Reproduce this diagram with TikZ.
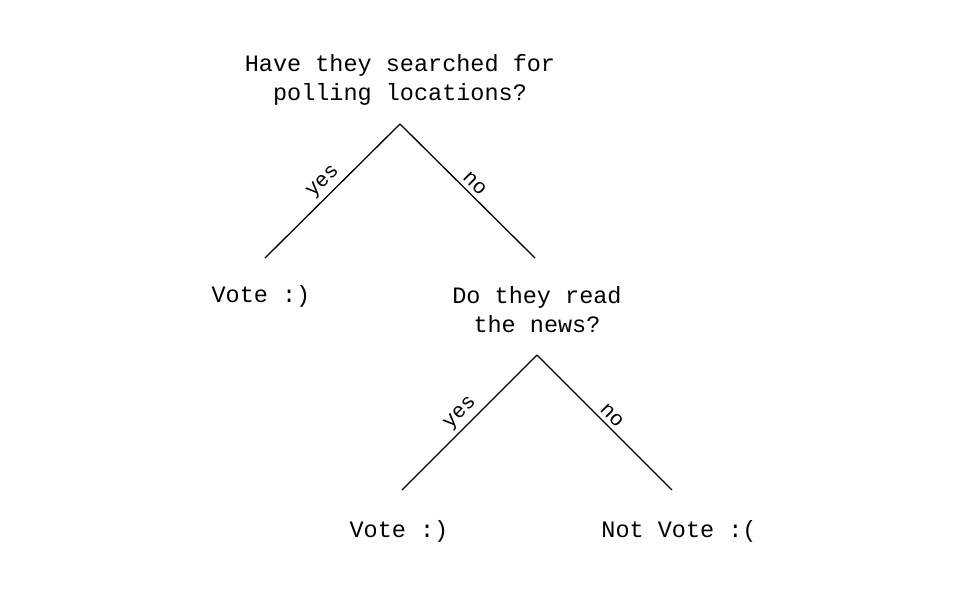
\documentclass[tikz,border=0pt]{standalone}
\usepackage{fontspec}
\setmonofont{Liberation Mono}
\usetikzlibrary{positioning}

\begin{document}
\begin{tikzpicture}[x=1pt, y=-1pt, txt/.style={font=\ttfamily\fontsize{23.5}{29}\selectfont, align=center, inner sep=0pt}, branch/.style={line width=1.3pt}, lbl/.style={font=\ttfamily\fontsize{21}{25}\selectfont, midway, above=4pt, sloped, inner sep=0pt}]
    \useasboundingbox (0,0) rectangle (970,600);

    \node[txt] (q1) at (400,80) {Have they searched for\\polling locations?};
    \node[txt] (v1) at (261,296) {Vote :)};
    \node[txt] (q2) at (537,310) {Do they read\\the news?};
    \node[txt] (v2) at (399,531) {Vote :)};
    \node[txt] (nv) at (679,531) {Not Vote :(};

    \coordinate (t1) at (400,124);
    \coordinate (t1l) at (265,258);
    \coordinate (t1r) at (535,258);
    \coordinate (t2) at (537,355);
    \coordinate (t2l) at (402,490);
    \coordinate (t2r) at (672,490);

    \draw[branch] (t1l) -- node[lbl] {yes} (t1);
    \draw[branch] (t1) -- node[lbl] {no} (t1r);
    \draw[branch] (t2l) -- node[lbl] {yes} (t2);
    \draw[branch] (t2) -- node[lbl] {no} (t2r);
\end{tikzpicture}
\end{document}
